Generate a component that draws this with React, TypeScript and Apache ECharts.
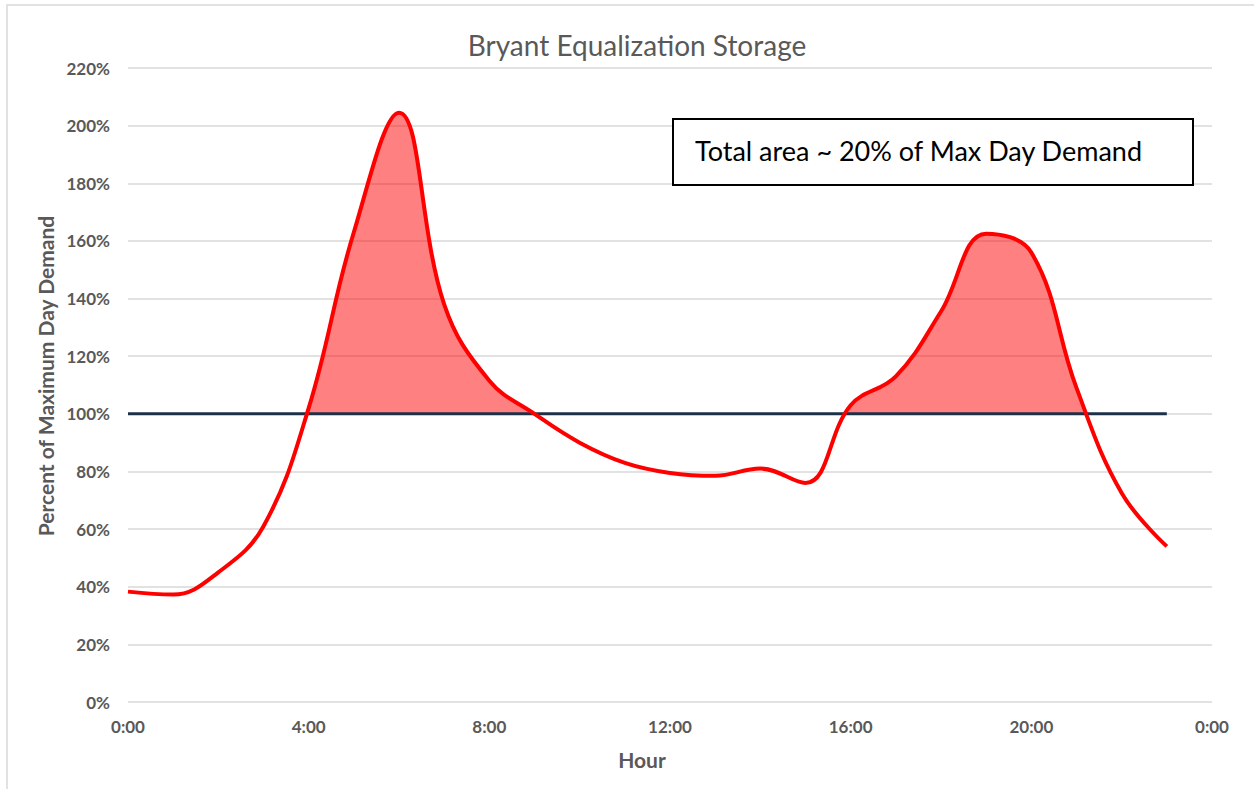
import React, { useEffect, useRef } from "react";
import * as echarts from "echarts";

const hours = [0, 1, 2, 3, 4, 5, 6, 7, 8, 9, 10, 11, 12, 13, 14, 15, 16, 17, 18, 19, 20, 21, 22, 23];
const demand = [38.3, 37.3, 45, 61, 102, 163, 204.5, 138, 111.5, 100, 90, 83, 79.5, 78.5, 81, 76, 103, 113, 135.5, 162.5, 156, 109, 72.5, 54];
const maxDayHours = [0, 23];
const maxDayLevel = [100, 100];
const yTicks = { min: 0, max: 220, interval: 20 };
const xTicks = { min: 0, max: 24, interval: 4 };

const titleText = "Bryant Equalization Storage";
const noteText = "Total area ~ 20% of Max Day Demand";
const yName = "Percent of Maximum Day Demand";
const xName = "Hour";

export default function App() {
  const ref = useRef<HTMLDivElement>(null);
  useEffect(() => {
    if (!ref.current) return;
    const chart = echarts.init(ref.current, undefined, { renderer: "svg" });
    const curve = hours.map((h, i) => [h, demand[i]]);
    const base = maxDayHours.map((h, i) => [h, maxDayLevel[i]]);
    const font = "Lato, 'Liberation Sans', sans-serif";
    const labelColor = "#595959";
    chart.setOption({
      animation: false,
      backgroundColor: "#ffffff",
      title: {
        text: titleText,
        left: 632,
        top: 26,
        textAlign: "center",
        textStyle: { fontFamily: font, fontSize: 28, fontWeight: "normal", color: labelColor },
      },
      grid: { left: 128, right: 42, top: 68, bottom: 87 },
      xAxis: {
        type: "value",
        min: xTicks.min,
        max: xTicks.max,
        interval: xTicks.interval,
        axisLine: { show: false },
        axisTick: { show: false },
        splitLine: { show: false },
        axisLabel: {
          color: labelColor,
          fontFamily: font,
          fontWeight: "bold",
          fontSize: 17,
          margin: 16,
          formatter: (v: number) => `${v % 24}:00`,
        },
      },
      yAxis: {
        type: "value",
        min: yTicks.min,
        max: yTicks.max,
        interval: yTicks.interval,
        axisLine: { show: false },
        axisTick: { show: false },
        splitLine: { lineStyle: { color: "#d9d9d9", width: 1.5 } },
        axisLabel: {
          color: labelColor,
          fontFamily: font,
          fontWeight: "bold",
          fontSize: 17,
          margin: 18,
          formatter: "{value}%",
        },
      },
      visualMap: {
        show: false,
        type: "piecewise",
        seriesIndex: 0,
        dimension: 1,
        pieces: [
          { min: 100, max: 220, color: "rgba(255,0,0,0.5)" },
          { min: 0, max: 100, color: "rgba(255,0,0,0)" },
        ],
        outOfRange: { color: "rgba(255,0,0,0)" },
      },
      series: [
        {
          type: "line",
          data: curve,
          smooth: 0.4,
          symbol: "none",
          lineStyle: { width: 0, opacity: 0 },
          areaStyle: { origin: 100, opacity: 1 },
          z: 1,
          silent: true,
        },
        {
          type: "line",
          data: base,
          symbol: "none",
          lineStyle: { color: "#1c3048", width: 3 },
          z: 2,
          silent: true,
        },
        {
          type: "line",
          data: curve,
          smooth: 0.4,
          symbol: "none",
          lineStyle: { color: "#ff0000", width: 4 },
          z: 3,
          silent: true,
        },
      ],
      graphic: [
        {
          type: "rect",
          shape: { x: 7, y: 5, width: 1400, height: 1000 },
          style: { fill: "none", stroke: "#d9d9d9", lineWidth: 1.5 },
          silent: true,
          z: -1,
        },
        {
          type: "rect",
          shape: { x: 673, y: 119, width: 520, height: 66 },
          style: { fill: "#ffffff", stroke: "#000000", lineWidth: 2 },
          z: 10,
        },
        {
          type: "text",
          x: 695,
          y: 150,
          style: {
            text: noteText,
            fontFamily: font,
            fontSize: 27,
            fill: "#000000",
            verticalAlign: "middle",
          },
          z: 11,
        },
        {
          type: "text",
          x: 45,
          y: 376,
          rotation: Math.PI / 2,
          style: {
            text: yName,
            fontFamily: font,
            fontSize: 21,
            fontWeight: "bold",
            fill: labelColor,
            align: "center",
            verticalAlign: "middle",
          },
        },
        {
          type: "text",
          x: 642,
          y: 759,
          style: {
            text: xName,
            fontFamily: font,
            fontSize: 21,
            fontWeight: "bold",
            fill: labelColor,
            align: "center",
            verticalAlign: "middle",
          },
        },
      ],
    });
    return () => chart.dispose();
  }, []);
  return (
    <div
      ref={ref}
      style={{ position: "absolute", left: 0, top: 0, width: 1254, height: 789 }}
    />
  );
}
